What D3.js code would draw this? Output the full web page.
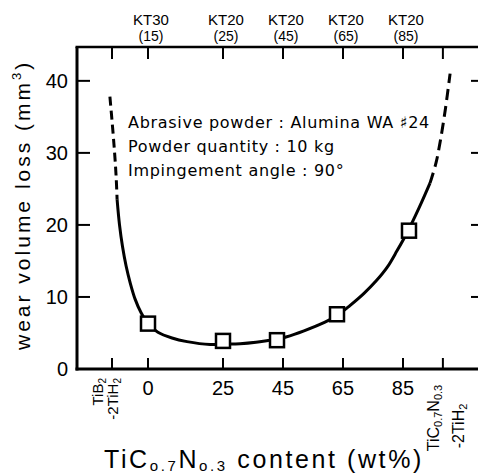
<!DOCTYPE html>
<html>
<head>
<meta charset="utf-8">
<script src="https://cdn.jsdelivr.net/npm/d3@7"></script>
<style>
  body { margin: 0; background: #fff; }
  svg { display: block; }
  text { font-family: "Liberation Sans", Arial, sans-serif; fill: #000; }
  text.note { font-family: "DejaVu Sans", sans-serif; }
</style>
</head>
<body>
<div class="display"></div>
<script>
// Wear volume loss vs TiC0.7N0.3 content

const WIDTH = 478;
const HEIGHT = 475;

// tick positions along the x axis (wt%), the two ends are the pure mixtures
const xTicks = [-12, 0, 25, 45, 65, 85, 98.3];
const xTickLabels = ['0', '25', '45', '65', '85'];
const xTickValues = [0, 25, 45, 65, 85];
const topGrades = ['KT30', 'KT20', 'KT20', 'KT20', 'KT20'];
const topBinder = ['(15)', '(25)', '(45)', '(65)', '(85)'];
const yTicks = [0, 10, 20, 30, 40];

// measured points
const pointX = [0, 25, 43, 63, 87];
const pointY = [6.3, 3.9, 4.0, 7.6, 19.2];

// fitted curve
const leftDash = [[-12.7, 37.8], [-11.8, 33.5], [-11.1, 29.8], [-10.6, 26.5], [-10.3, 23.5]];
const solidCurve = [[-10.3, 23.5], [-9.5, 20.0], [-8.5, 17.0], [-7.3, 14.3], [-5.9, 11.9], [-4.3, 9.7],
  [-2.3, 7.8], [0, 6.3], [3.3, 5.1], [8, 4.3], [13, 3.8], [20.7, 3.4], [25, 3.45], [30.7, 3.5],
  [36, 3.7], [40, 3.95], [43, 4.15], [46, 4.45], [52, 5.3], [59, 6.5], [63.3, 7.5], [67.3, 8.8],
  [72, 10.5], [76, 12.2], [79.7, 14.1], [83, 16.4], [86.7, 19.2], [90.5, 22.5], [94, 25.8]];
const rightDash = [[94, 25.8], [96, 28.6], [97.5, 31.8], [99.1, 36.0], [100.7, 41.0]];

const notes = ['Abrasive powder : Alumina WA \u266F24', 'Powder quantity : 10 kg', 'Impingement angle : 90\u00B0'];

const svg = d3.select('.display')
  .append('svg')
  .attr('width', WIDTH)
  .attr('height', HEIGHT);

const x = d3.scaleLinear().domain([-23.67, 110.67]).range([77, 480]);
const y = d3.scaleLinear().domain([0, 44.7]).range([369, 47]);

// frame
const frame = svg.append('g').attr('fill', 'none').attr('stroke', '#000').attr('stroke-width', 3);
frame.append('line').attr('x1', x.range()[0]).attr('x2', x.range()[0]).attr('y1', y(0) + 1.5).attr('y2', y.range()[1]);
frame.append('line').attr('x1', x.range()[0] - 1.5).attr('x2', WIDTH).attr('y1', y(0)).attr('y2', y(0));
frame.append('line').attr('x1', x.range()[0] - 1.5).attr('x2', WIDTH).attr('y1', y.range()[1]).attr('y2', y.range()[1]).attr('stroke-width', 2.5);

// ticks
const ticks = svg.append('g').attr('stroke', '#000').attr('stroke-width', 2);
xTicks.forEach(v => {
  ticks.append('line').attr('x1', x(v)).attr('x2', x(v)).attr('y1', y(0)).attr('y2', y(0) - 11);
  ticks.append('line').attr('x1', x(v)).attr('x2', x(v)).attr('y1', y.range()[1]).attr('y2', y.range()[1] + 12);
});
yTicks.slice(1).forEach(v => {
  ticks.append('line').attr('x1', x.range()[0]).attr('x2', x.range()[0] + 13).attr('y1', y(v)).attr('y2', y(v));
  ticks.append('line').attr('x1', 471).attr('x2', WIDTH).attr('y1', y(v)).attr('y2', y(v));
});

// y tick labels
svg.selectAll('.ylab')
  .data(yTicks)
  .enter()
  .append('text')
  .attr('class', 'ylab')
  .attr('x', 68)
  .attr('y', d => y(d) + 7)
  .attr('text-anchor', 'end')
  .attr('font-size', 20)
  .text(d => d);

// x tick labels
svg.selectAll('.xlab')
  .data(xTickValues)
  .enter()
  .append('text')
  .attr('class', 'xlab')
  .attr('x', d => x(d))
  .attr('y', 395)
  .attr('text-anchor', 'middle')
  .attr('font-size', 20)
  .text((d, i) => xTickLabels[i]);

// top grade labels
svg.selectAll('.grade')
  .data(xTickValues)
  .enter()
  .append('text')
  .attr('x', d => x(d) + 3)
  .attr('y', 25)
  .attr('text-anchor', 'middle')
  .attr('font-size', 15)
  .text((d, i) => topGrades[i]);
svg.selectAll('.binder')
  .data(xTickValues)
  .enter()
  .append('text')
  .attr('x', d => x(d) + 3)
  .attr('y', 41)
  .attr('text-anchor', 'middle')
  .attr('font-size', 14)
  .text((d, i) => topBinder[i]);

// rotated end labels
const lg = svg.append('g').attr('transform', `translate(${x(-12) - 9}, 378) rotate(-90)`);
const lt1 = lg.append('text').attr('text-anchor', 'end').attr('font-size', 15);
lt1.append('tspan').text('TiB');
lt1.append('tspan').text('2').attr('font-size', 10).attr('dy', 3);
const lt2 = lg.append('text').attr('y', 15).attr('text-anchor', 'end').attr('font-size', 15);
lt2.append('tspan').text('-2TiH');
lt2.append('tspan').text('2').attr('font-size', 10).attr('dy', 3);

const rg = svg.append('g').attr('transform', `translate(${x(98.3) - 4}, 418) rotate(-90)`);
const rt1 = rg.append('text').attr('text-anchor', 'middle').attr('font-size', 16);
rt1.append('tspan').text('TiC');
rt1.append('tspan').text('0.7').attr('font-size', 11).attr('dy', 3);
rt1.append('tspan').text('N').attr('dy', -3);
rt1.append('tspan').text('0.3').attr('font-size', 11).attr('dy', 3);
const rt2 = rg.append('text').attr('y', 25).attr('x', -8).attr('text-anchor', 'middle').attr('font-size', 16);
rt2.append('tspan').text('-2TiH');
rt2.append('tspan').text('2').attr('font-size', 11).attr('dy', 3);

// axis titles
const xt = svg.append('text')
  .attr('x', 104)
  .attr('y', 468)
  .attr('font-size', 25)
  .attr('letter-spacing', 2.6);
xt.append('tspan').text('TiC');
xt.append('tspan').text('o.7').attr('font-size', 15).attr('dy', 3);
xt.append('tspan').text('N').attr('dy', -3);
xt.append('tspan').text('o.3').attr('font-size', 15).attr('dy', 3);
xt.append('tspan').text(' content (wt%)').attr('dy', -3);

const yt = svg.append('text')
  .attr('transform', 'translate(30, 350) rotate(-90)')
  .attr('font-size', 21)
  .attr('letter-spacing', 3);
yt.append('tspan').text('wear volume loss (mm');
yt.append('tspan').text('3').attr('font-size', 13).attr('dy', -9);
yt.append('tspan').text(')').attr('dy', 9);

// notes
svg.selectAll('.note')
  .data(notes)
  .enter()
  .append('text')
  .attr('class', 'note')
  .attr('x', 128)
  .attr('y', (d, i) => 128 + i * 24)
  .attr('font-size', 16)
  .attr('letter-spacing', 0.7)
  .text(d => d);

// curve
const line = d3.line()
  .x(d => x(d[0]))
  .y(d => y(d[1]))
  .curve(d3.curveCatmullRom.alpha(0.5));

const curves = svg.append('g').attr('fill', 'none').attr('stroke', '#000').attr('stroke-width', 3);
curves.append('path').attr('d', line(solidCurve));
curves.append('path').attr('d', line(leftDash)).attr('stroke-dasharray', '9 5');
curves.append('path').attr('d', line(rightDash)).attr('stroke-dasharray', '11 6');

// squares
svg.selectAll('.pt')
  .data(pointX)
  .enter()
  .append('rect')
  .attr('class', 'pt')
  .attr('x', d => x(d) - 7)
  .attr('y', (d, i) => y(pointY[i]) - 7)
  .attr('width', 14)
  .attr('height', 14)
  .attr('fill', '#fff')
  .attr('stroke', '#000')
  .attr('stroke-width', 2.5);
</script>
</body>
</html>
